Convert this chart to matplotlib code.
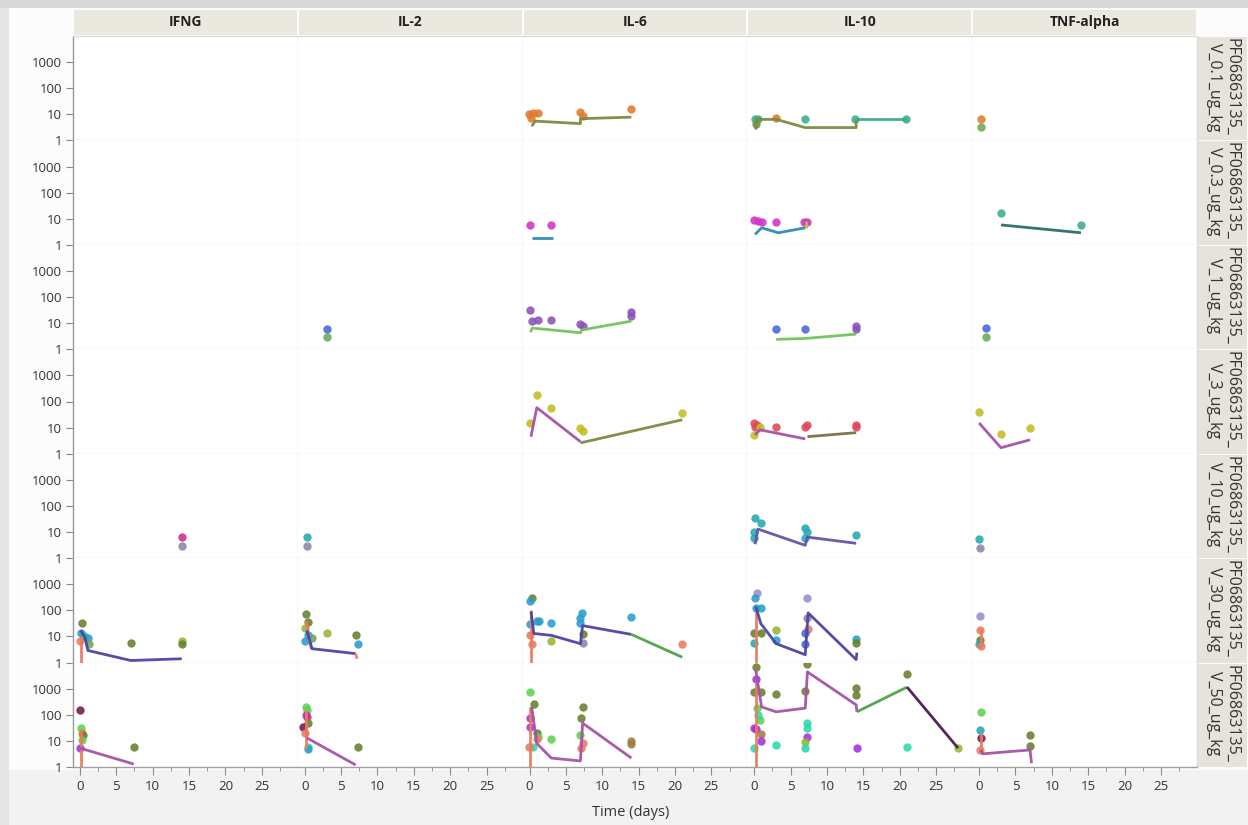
import matplotlib
matplotlib.use("Agg")
import matplotlib.pyplot as plt
from matplotlib.patches import Rectangle

plt.rcParams['font.family'] = ['Open Sans', 'DejaVu Sans']

cytokines = ["IFNG", "IL-2", "IL-6", "IL-10", "TNF-alpha"]
doses = ["V_0.1_ug_kg", "V_0.3_ug_kg", "V_1_ug_kg", "V_3_ug_kg",
         "V_10_ug_kg", "V_30_ug_kg", "V_50_ug_kg"]
compound = "PF06863135_"
y_ticks = [1, 10, 100, 1000]
x_ticks = [0, 5, 10, 15, 20, 25]

# subject / curve colours
palette = {
    "orange": "#e07a2c", "green": "#6aa855", "teal": "#36b08c",
    "magenta": "#d233c8", "steel": "#2a8cb4", "yellowgreen": "#b4c828",
    "blue": "#4466dd", "lgreen": "#74c25a", "purple": "#8a52b8",
    "olive": "#c4bc22", "red": "#e04858", "pink": "#d22a92",
    "lavender": "#9c8cca", "cyan": "#22aab2", "dkolive": "#66802e",
    "sky": "#2a9ccc", "salmon": "#e87c5e", "ygreen": "#98b434",
    "brown": "#a27a42", "gray": "#8a86a8", "lime": "#5ed24c",
    "aqua": "#2cd8aa", "violet": "#a432e0", "plum": "#74184e",
    "indigo": "#4c44a2", "mauve": "#a652a8", "fitgreen": "#4ca24a",
    "darkplum": "#4a1c4c", "fitolive": "#7a8c42", "darkteal": "#2a7068",
    "fitbrown": "#7c7248", "fitviolet": "#6652a8",
}

# observations: (day, concentration, subject colour)
obs_v0_1 = {
    "IL-6": [(-0.1, 9.9, "orange"), (0.5, 11.5, "orange"), (1.1, 11, "orange"),
             (0.2, 7.4, "orange"), (7.0, 11.8, "orange"), (7.3, 9, "orange"),
             (14.0, 15.4, "orange")],
    "IL-10": [(0.1, 6.4, "teal"), (0.5, 6.8, "teal"), (0.3, 4.1, "fitolive"),
              (3.0, 7.4, "orange"), (7.0, 6.4, "teal"), (13.9, 6.4, "teal"),
              (20.8, 6.4, "teal")],
    "TNF-alpha": [(0.3, 6.4, "orange"), (0.3, 3.2, "green")],
}
obs_v0_3 = {
    "IL-6": [(0.0, 5.8, "magenta"), (3.0, 5.8, "magenta")],
    "IL-10": [(0.0, 9, "magenta"), (0.5, 8.4, "magenta"), (1.0, 7.2, "magenta"),
              (3.0, 7.6, "magenta"), (6.8, 7.2, "magenta"), (7.2, 7.6, "magenta")],
    "TNF-alpha": [(3.0, 17, "teal"), (14.0, 5.8, "teal")],
}
obs_v1 = {
    "IL-2": [(3.1, 5.8, "blue"), (3.1, 2.9, "green")],
    "IL-6": [(0.0, 31, "purple"), (0.3, 12, "purple"), (1.1, 13, "purple"),
             (3.0, 13, "purple"), (7.0, 9, "purple"), (7.3, 7.6, "purple"),
             (14.0, 26, "purple"), (14.0, 19, "purple")],
    "IL-10": [(3.0, 5.8, "blue"), (7.0, 5.8, "blue"), (14.0, 7.6, "purple"),
              (14.0, 5.8, "purple")],
    "TNF-alpha": [(1.0, 6.4, "blue"), (1.0, 2.9, "green")],
}
obs_v3 = {
    "IL-6": [(0.1, 15, "olive"), (1.0, 183, "olive"), (3.0, 58, "olive"),
             (7.0, 10, "olive"), (7.3, 7.6, "olive"), (21.0, 37, "olive")],
    "IL-10": [(0.0, 15, "red"), (0.1, 11, "red"), (0.4, 13, "red"),
              (0.8, 11, "olive"), (0.0, 5.3, "olive"), (3.0, 11, "red"),
              (7.0, 11, "red"), (7.3, 13, "red"), (14.0, 13, "red"), (14.0, 11, "red")],
    "TNF-alpha": [(0.0, 41, "olive"), (3.0, 5.8, "olive"), (7.0, 10, "olive")],
}
obs_v10 = {
    "IFNG": [(14.0, 6.4, "pink"), (14.0, 2.9, "gray")],
    "IL-2": [(0.3, 6.4, "cyan"), (0.3, 2.9, "gray")],
    "IL-10": [(0.1, 34, "cyan"), (0.9, 22, "cyan"), (0.0, 10, "cyan"),
              (0.0, 5.8, "cyan"), (7.0, 14, "cyan"), (7.3, 10, "cyan"),
              (6.9, 5.8, "cyan"), (14.0, 7.6, "cyan")],
    "TNF-alpha": [(0.0, 5.3, "cyan"), (0.1, 2.4, "gray")],
}
obs_v30 = {
    "IFNG": [(0.3, 34, "dkolive"), (0.2, 13, "sky"), (1.1, 9, "sky"),
             (1.2, 5, "green"), (0.0, 7, "salmon"), (0.5, 10, "cyan"),
             (7.0, 5.8, "dkolive"), (14.0, 7, "ygreen"), (14.0, 5.3, "dkolive")],
    "IL-2": [(0.2, 75, "dkolive"), (0.4, 37, "dkolive"), (0.0, 22, "ygreen"),
             (0.0, 7, "sky"), (0.5, 11, "sky"), (1.0, 9, "green"),
             (3.0, 14, "ygreen"), (7.0, 11, "dkolive"), (7.3, 5, "sky")],
    "IL-6": [(0.4, 310, "dkolive"), (0.1, 220, "sky"), (0.0, 31, "sky"),
             (1.0, 40, "sky"), (1.3, 40, "sky"), (3.0, 34, "sky"),
             (0.3, 5, "salmon"), (0.1, 11, "salmon"), (3.0, 7, "ygreen"),
             (7.2, 80, "sky"), (7.0, 53, "sky"), (6.9, 34, "sky"),
             (7.4, 12, "dkolive"), (7.4, 5.8, "gray"), (14.0, 58, "sky"),
             (21.0, 5, "salmon")],
    "IL-10": [(0.4, 480, "lavender"), (0.1, 310, "sky"), (0.3, 128, "sky"),
              (0.9, 118, "sky"), (0.0, 14, "dkolive"), (0.9, 13, "dkolive"),
              (0.0, 5.8, "cyan"), (3.0, 17, "ygreen"), (3.0, 7.6, "sky"),
              (7.3, 310, "lavender"), (7.2, 53, "gray"), (7.4, 20, "salmon"),
              (7.0, 13, "blue"), (7.0, 5, "blue"), (14.0, 8, "sky"),
              (14.0, 5.8, "dkolive")],
    "TNF-alpha": [(0.1, 63, "lavender"), (0.1, 17, "salmon"), (0.1, 7.6, "dkolive"),
                  (0.0, 5.3, "cyan"), (0.2, 4.5, "salmon")],
}
obs_v50 = {
    "IFNG": [(0.0, 150, "plum"), (0.2, 31, "lime"), (0.3, 20, "salmon"),
             (0.4, 17, "dkolive"), (0.3, 11, "lime"), (0.0, 5.3, "violet"),
             (7.4, 5.8, "dkolive")],
    "IL-2": [(0.2, 200, "lime"), (0.3, 150, "lime"), (0.2, 100, "violet"),
             (0.3, 85, "pink"), (0.5, 48, "dkolive"), (-0.2, 34, "plum"),
             (0.1, 20, "salmon"), (0.4, 5.8, "aqua"), (0.4, 4.9, "sky"),
             (7.3, 5.8, "dkolive")],
    "IL-6": [(0.1, 750, "lime"), (0.6, 260, "dkolive"), (0.1, 75, "violet"),
             (0.1, 34, "violet"), (1.0, 20, "dkolive"), (1.2, 14, "lime"),
             (1.0, 12, "salmon"), (3.0, 12, "lime"), (0.5, 5.8, "aqua"),
             (-0.1, 5.8, "salmon"), (7.3, 200, "dkolive"), (7.1, 75, "dkolive"),
             (6.9, 17, "lime"), (7.3, 8, "salmon"), (7.1, 5.3, "salmon"),
             (14.0, 10, "brown"), (14.0, 7.6, "brown")],
    "IL-10": [(0.2, 6700, "dkolive"), (0.2, 2300, "violet"), (-0.1, 750, "dkolive"),
              (0.9, 750, "dkolive"), (3.0, 630, "dkolive"), (0.4, 180, "lime"),
              (0.8, 63, "lime"), (0.5, 100, "aqua"), (0.0, 31, "violet"),
              (0.2, 28, "violet"), (0.9, 18, "brown"), (0.9, 10, "violet"),
              (0.0, 5.3, "aqua"), (3.0, 7, "aqua"), (7.2, 8700, "dkolive"),
              (7.0, 800, "dkolive"), (7.3, 48, "aqua"), (7.3, 31, "aqua"),
              (7.3, 14, "violet"), (7.0, 9, "ygreen"), (7.0, 5.3, "aqua"),
              (14.0, 1050, "dkolive"), (14.0, 580, "dkolive"), (14.1, 5.3, "violet"),
              (21.0, 3600, "dkolive"), (21.0, 5.8, "aqua"), (28.0, 5.3, "ygreen")],
    "TNF-alpha": [(0.2, 130, "lime"), (0.1, 26, "cyan"), (0.2, 13, "plum"),
                  (0.1, 4.5, "salmon"), (7.0, 17, "dkolive"), (7.0, 6.4, "dkolive")],
}

# model fits: (days, concentrations, colour)
fit_v0_1 = {
    "IL-6": [([0.3, 0.8, 7.0, 7.0, 14.0], [3.5, 5.5, 4.4, 6.8, 7.8], "fitolive")],
    "IL-10": [([0.2, 0.3, 3.0, 7.0, 14.0, 14.0], [2.6, 6.4, 6.4, 3.1, 3.1, 6.4], "fitolive"),
              ([14.0, 21.0], [6.4, 6.4], "teal")],
}
fit_v0_3 = {
    "IL-6": [([0.3, 3.2], [1.8, 1.8], "steel")],
    "IL-10": [([0.1, 1.0, 3.3, 7.0], [2.5, 4.5, 2.9, 4.5], "steel"),
              ([7.1, 7.1], [4.3, 8.5], "yellowgreen")],
    "TNF-alpha": [([3.0, 14.0], [5.8, 2.9], "darkteal")],
}
fit_v1 = {
    "IL-6": [([0.1, 0.4, 7.0, 7.2, 14.0], [4.5, 6.5, 4.3, 5.5, 12], "lgreen")],
    "IL-10": [([3.0, 7.0, 14.0], [2.4, 2.6, 3.8], "lgreen")],
}
fit_v3 = {
    "IL-6": [([0.2, 1.0, 7.0], [4.5, 58, 2.9], "mauve"),
             ([7.0, 21.0], [2.6, 20], "fitolive")],
    "IL-10": [([0.1, 0.8, 7.0], [5.3, 8.2, 3.7], "mauve"),
              ([7.3, 14.0], [4.5, 6.4], "fitbrown")],
    "TNF-alpha": [([0.0, 3.0, 7.0], [15, 1.7, 3.4], "mauve")],
}
fit_v10 = {
    "IL-10": [([0.1, 0.5, 7.0, 7.3, 14.0], [3.4, 13, 3.1, 6.4, 3.7], "fitviolet")],
}
fit_v30 = {
    "IFNG": [([0.2, 0.2], [1.0, 10], "salmon"),
             ([0.1, 0.7, 1.1, 7.0, 14.0], [17, 9, 2.9, 1.2, 1.4], "indigo")],
    "IL-2": [([0.2, 0.9], [38, 3.4], "salmon"),
             ([0.3, 1.0, 7.0], [17, 3.4, 2.2], "indigo"),
             ([7.0, 7.2], [2.2, 1.4], "salmon")],
    "IL-6": [([0.2, 0.2], [1.0, 100], "salmon"),
             ([0.2, 0.6, 3.0, 7.0, 7.3, 14.0], [90, 13, 11, 5.3, 26, 12], "indigo"),
             ([14.0, 21.0], [12, 1.6], "fitgreen")],
    "IL-10": [([0.2, 0.2], [1.0, 100], "salmon"),
              ([0.2, 0.9, 3.0, 7.0, 7.4, 14.0, 14.1], [140, 31, 5.3, 2.0, 80, 1.3, 2.4], "indigo")],
    "TNF-alpha": [([0.2, 0.2], [4, 20], "salmon")],
}
fit_v50 = {
    "IFNG": [([0.1, 0.1], [1, 25], "salmon"),
             ([0.0, 7.4], [5.3, 1.3], "mauve")],
    "IL-2": [([0.2, 0.2], [5, 150], "salmon"),
             ([0.3, 7.0], [13, 1.2], "mauve")],
    "IL-6": [([0.1, 0.1], [1, 200], "salmon"),
             ([0.3, 1.0, 3.0, 7.0, 7.3, 14.0], [200, 8, 2.2, 1.7, 48, 2.2], "mauve")],
    "IL-10": [([0.2, 0.2], [1, 2000], "salmon"),
              ([0.2, 1.0, 3.0, 7.0, 7.3, 14.0, 14.1], [5200, 200, 130, 180, 4400, 240, 130], "mauve"),
              ([14.1, 21.0], [130, 1150], "fitgreen"),
              ([21.0, 28.0], [1150, 5.3], "darkplum")],
    "TNF-alpha": [([0.2, 0.2], [5, 20], "salmon"),
                  ([0.2, 0.5, 7.0, 7.2], [4.5, 3.2, 4.5, 1.4], "mauve")],
}

obs_rows = [obs_v0_1, obs_v0_3, obs_v1, obs_v3, obs_v10, obs_v30, obs_v50]
fit_rows = [fit_v0_1, fit_v0_3, fit_v1, fit_v3, fit_v10, fit_v30, fit_v50]

W, H = 1248, 825
fig = plt.figure(figsize=(W / 100, H / 100), dpi=100, facecolor="#f2f2f2")


def px_rect(x, y, w, h, z=-5, **kw):
    # rectangle given in pixel coords measured from top-left
    r = Rectangle((x / W, 1 - (y + h) / H), w / W, h / H,
                  transform=fig.transFigure, zorder=z, **kw)
    fig.add_artist(r)
    return r


# window chrome
px_rect(0, 0, W, 8, facecolor="#d9d9d9", edgecolor="none")
px_rect(0, 8, 9, H - 8, facecolor="#e6e6e6", edgecolor="none")
px_rect(9, 8, W - 9, 762, facecolor="#fcfcfc", edgecolor="none")

left, right, top, bottom = 73, 1197, 36, 767
cw = (right - left) / 5
rh = (bottom - top) / 7

# column headers
for c, name in enumerate(cytokines):
    x0 = left + c * cw
    px_rect(x0 + 1, 10, cw - 2, top - 11, facecolor="#ebe8df", edgecolor="none")
    fig.text((x0 + cw / 2) / W, 1 - 22 / H, name, ha="center", va="center",
             fontsize=10, fontweight="bold", color="#222222")

# row strips
for r, dose in enumerate(doses):
    y0 = top + r * rh
    strip = px_rect(right + 1, y0 + 1, W - right - 2, rh - 1,
                    facecolor="#e6e3da", edgecolor="none")
    t = fig.text((right + 1 + (W - right - 2) / 2) / W, 1 - (y0 + 2) / H,
                 compound + "\n" + dose, rotation=270, ha="center", va="top",
                 fontsize=11.5, linespacing=1.15, color="#333333")
    t.set_clip_path(strip)

for r in range(7):
    for c, name in enumerate(cytokines):
        ax = fig.add_axes([(left + c * cw) / W, 1 - (top + (r + 1) * rh) / H,
                           cw / W, rh / H])
        ax.set_facecolor("white")
        ax.set_yscale("log")
        ax.set_ylim(1, 1e4)
        ax.set_xlim(-0.95, 29.95)

        for s in ax.spines.values():
            s.set_color("#dcdcdc")
            s.set_linewidth(1.0)
        ax.spines["top"].set_visible(r == 0)
        ax.spines["left"].set_visible(c == 0)
        if c == 0:
            ax.spines["left"].set_color("#9a9a9a")
        if r == 6:
            ax.spines["bottom"].set_color("#a0a0a0")

        ax.minorticks_off()
        if c == 0:
            ax.set_yticks(y_ticks)
            ax.set_yticklabels([str(v) for v in y_ticks])
            ax.tick_params(axis="y", length=5, color="#8a8a8a", labelsize=9.5,
                           labelcolor="#333333", pad=3)
        else:
            ax.set_yticks([])
        if r == 6:
            ax.set_xticks(x_ticks)
            ax.set_xticks([2.5, 7.5, 12.5, 17.5, 22.5, 27.5], minor=True)
            ax.tick_params(axis="x", which="major", length=6, color="#8a8a8a",
                           labelsize=9.5, labelcolor="#333333", pad=3)
            ax.tick_params(axis="x", which="minor", length=3, color="#8a8a8a")
        else:
            ax.set_xticks([])

        for t_day, val, subj in obs_rows[r].get(name, []):
            ax.scatter(t_day, val, s=36, color=palette[subj], alpha=0.88,
                       linewidths=0, zorder=2)
        for days, vals, col in fit_rows[r].get(name, []):
            ax.plot(days, vals, color=palette[col], lw=2.0, alpha=0.95,
                    solid_capstyle="butt", zorder=3)

fig.text(631 / W, 1 - 812 / H, "Time (days)", ha="center", va="center",
         fontsize=10.5, color="#333333")

fig.savefig("out.png", dpi=100, facecolor=fig.get_facecolor())
